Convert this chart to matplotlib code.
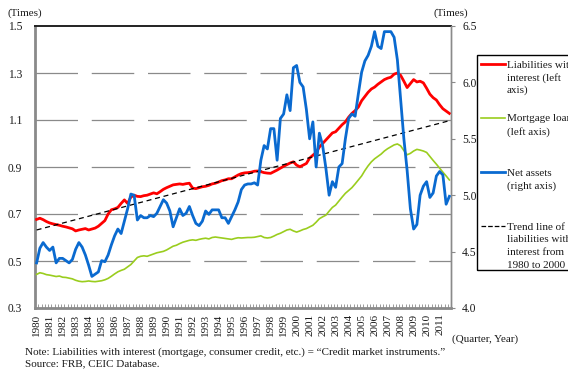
import matplotlib
matplotlib.use("Agg")
import matplotlib.pyplot as plt
from matplotlib.lines import Line2D
from matplotlib.patches import Rectangle
import numpy as np

plt.rcParams['font.family'] = ['Liberation Serif', 'DejaVu Serif']

# Quarterly series, 1980Q1 .. 2011Q4 (four values per year)
years = list(range(1980, 2012))

liabilities = [
    0.677, 0.682, 0.676, 0.668,  # 1980
    0.662, 0.658, 0.655, 0.652,  # 1981
    0.648, 0.645, 0.641, 0.637,  # 1982
    0.628, 0.632, 0.635, 0.638,  # 1983
    0.632, 0.636, 0.640, 0.648,  # 1984
    0.660, 0.672, 0.700, 0.718,  # 1985
    0.722, 0.728, 0.745, 0.760,  # 1986
    0.745, 0.772, 0.780, 0.775,  # 1987
    0.774, 0.778, 0.780, 0.785,  # 1988
    0.790, 0.786, 0.795, 0.805,  # 1989
    0.812, 0.818, 0.824, 0.826,  # 1990
    0.828, 0.826, 0.829, 0.831,  # 1991
    0.810, 0.808, 0.812, 0.816,  # 1992
    0.818, 0.822, 0.828, 0.831,  # 1993
    0.836, 0.842, 0.845, 0.850,  # 1994
    0.850, 0.858, 0.866, 0.872,  # 1995
    0.875, 0.876, 0.878, 0.882,  # 1996
    0.883, 0.880, 0.876, 0.874,  # 1997
    0.873, 0.880, 0.887, 0.895,  # 1998
    0.903, 0.910, 0.917, 0.922,  # 1999
    0.908, 0.901, 0.908, 0.915,  # 2000
    0.938, 0.950, 0.962, 0.985,  # 2001
    1.000, 1.015, 1.030, 1.045,  # 2002
    1.050, 1.065, 1.080, 1.092,  # 2003
    1.112, 1.128, 1.140, 1.155,  # 2004
    1.182, 1.200, 1.218, 1.232,  # 2005
    1.240, 1.252, 1.262, 1.272,  # 2006
    1.278, 1.282, 1.295, 1.300,  # 2007
    1.290, 1.265, 1.238, 1.255,  # 2008
    1.272, 1.262, 1.265, 1.258,  # 2009
    1.235, 1.210, 1.195, 1.185,  # 2010
    1.165, 1.148, 1.138, 1.128,  # 2011
]

mortgage = [
    0.443, 0.450, 0.447, 0.442,  # 1980
    0.440, 0.437, 0.434, 0.436,  # 1981
    0.431, 0.430, 0.427, 0.424,  # 1982
    0.418, 0.414, 0.412, 0.413,  # 1983
    0.415, 0.413, 0.412, 0.414,  # 1984
    0.416, 0.420, 0.426, 0.435,  # 1985
    0.445, 0.454, 0.460, 0.465,  # 1986
    0.475, 0.485, 0.500, 0.515,  # 1987
    0.520, 0.522, 0.520, 0.525,  # 1988
    0.530, 0.535, 0.538, 0.541,  # 1989
    0.547, 0.555, 0.563, 0.567,  # 1990
    0.574, 0.580, 0.584, 0.588,  # 1991
    0.590, 0.588, 0.592, 0.595,  # 1992
    0.597, 0.594, 0.600, 0.602,  # 1993
    0.600, 0.598, 0.596, 0.594,  # 1994
    0.592, 0.596, 0.599, 0.598,  # 1995
    0.599, 0.600, 0.600, 0.601,  # 1996
    0.604, 0.607, 0.600, 0.598,  # 1997
    0.600, 0.606, 0.613, 0.618,  # 1998
    0.625, 0.632, 0.635, 0.628,  # 1999
    0.623, 0.628, 0.634, 0.638,  # 2000
    0.645, 0.652, 0.665, 0.680,  # 2001
    0.688, 0.695, 0.712, 0.728,  # 2002
    0.738, 0.755, 0.772, 0.788,  # 2003
    0.800, 0.812, 0.828, 0.845,  # 2004
    0.862, 0.885, 0.905, 0.922,  # 2005
    0.935, 0.945, 0.955, 0.968,  # 2006
    0.978, 0.986, 0.994, 0.998,  # 2007
    0.990, 0.970, 0.952, 0.958,  # 2008
    0.968, 0.975, 0.972, 0.968,  # 2009
    0.962, 0.945, 0.928, 0.912,  # 2010
    0.895, 0.878, 0.862, 0.845,  # 2011
]

net_assets = [
    4.40, 4.53, 4.58, 4.54,  # 1980
    4.51, 4.54, 4.40, 4.44,  # 1981
    4.44, 4.42, 4.40, 4.43,  # 1982
    4.52, 4.58, 4.54, 4.47,  # 1983
    4.38, 4.28, 4.30, 4.32,  # 1984
    4.42, 4.41, 4.47, 4.56,  # 1985
    4.64, 4.70, 4.66, 4.77,  # 1986
    4.88, 5.01, 5.00, 4.78,  # 1987
    4.82, 4.80, 4.80, 4.82,  # 1988
    4.81, 4.84, 4.90, 4.96,  # 1989
    4.93, 4.86, 4.72, 4.80,  # 1990
    4.88, 4.82, 4.84, 4.90,  # 1991
    4.82, 4.75, 4.73, 4.77,  # 1992
    4.86, 4.83, 4.87, 4.87,  # 1993
    4.87, 4.80, 4.80, 4.75,  # 1994
    4.81, 4.87, 4.94, 5.05,  # 1995
    5.09, 5.10, 5.10, 5.11,  # 1996
    5.09, 5.31, 5.44, 5.41,  # 1997
    5.59, 5.59, 5.31, 5.68,  # 1998
    5.72, 5.89, 5.75, 6.13,  # 1999
    6.15, 6.00, 5.96, 5.76,  # 2000
    5.50, 5.65, 5.25, 5.55,  # 2001
    5.44, 5.24, 5.00, 5.12,  # 2002
    5.07, 5.25, 5.28, 5.50,  # 2003
    5.68, 5.72, 5.70, 5.90,  # 2004
    6.09, 6.19, 6.24, 6.32,  # 2005
    6.45, 6.32, 6.30, 6.45,  # 2006
    6.45, 6.45, 6.40, 6.20,  # 2007
    5.85, 5.50, 5.22, 4.88,  # 2008
    4.70, 4.74, 5.00, 5.08,  # 2009
    5.12, 4.98, 5.02, 5.17,  # 2010
    5.21, 5.18, 4.92, 4.99,  # 2011
]

# Trend line of liabilities (fitted on 1980-2000), value at first and last quarter
trend_first = 0.632
trend_last = 1.097

left_ticks = [0.3, 0.5, 0.7, 0.9, 1.1, 1.3, 1.5]
right_ticks = [4.0, 4.5, 5.0, 5.5, 6.0, 6.5]

legend_entries = [
    ("Liabilities with\ninterest (left\naxis)", "#ff0000", "-", 2.0),
    ("Mortgage loans\n(left axis)", "#9acd1e", "-", 1.2),
    ("Net assets\n(right axis)", "#0a6ad0", "-", 2.0),
    ("Trend line of\nliabilities with\ninterest from\n1980 to 2000", "black", "--", 0.9),
]

W, H = 568, 371
fig = plt.figure(figsize=(W / 100, H / 100), dpi=100)
ax = fig.add_axes([35 / W, 63 / H, 416 / W, 282 / H])

n = len(liabilities)
x = np.arange(n)
txt = "#1a1a1a"
grey = "#8a8a8a"
fs = 8

for v in left_ticks[1:-1]:
    ax.axhline(v, color=grey, lw=0.9, dashes=(34, 11), zorder=1)

ax.plot(x, liabilities, color="#ff0000", lw=2.0, zorder=3)
ax.plot(x, mortgage, color="#9acd1e", lw=1.2, zorder=3)
ax.plot([x[0], x[-1]], [trend_first, trend_last], color="black", lw=0.9,
        dashes=(4, 3), zorder=4)

ax.set_xlim(-0.5, n - 0.5)
ax.set_ylim(left_ticks[0], left_ticks[-1])
ax.set_yticks(left_ticks)
ax.set_yticklabels([f"{v:.1f}" for v in left_ticks], fontsize=fs + 0.3, color=txt)
ax.tick_params(axis="y", length=0, pad=9)

ax.set_xticks(np.arange(0, n, 4))
ax.set_xticklabels([str(y) for y in years], rotation=90, fontsize=fs, color=txt)
ax.set_xticks(np.arange(-0.5, n, 1), minor=True)
ax.tick_params(axis="x", which="major", length=0, pad=4)
ax.tick_params(axis="x", which="minor", direction="in", length=3,
               color=grey, width=0.6)

for side, col, lw in [("left", grey, 2.0), ("bottom", grey, 2.0),
                      ("top", "#222222", 1.4), ("right", grey, 1.0)]:
    ax.spines[side].set_color(col)
    ax.spines[side].set_linewidth(lw)

ax2 = ax.twinx()
ax2.plot(x, net_assets, color="#0a6ad0", lw=2.0, zorder=3)
ax2.set_ylim(right_ticks[0], right_ticks[-1])
ax2.set_yticks(right_ticks)
ax2.set_yticklabels([f"{v:.1f}" for v in right_ticks], fontsize=fs + 0.3, color=txt)
ax2.tick_params(axis="y", direction="out", length=3, color=grey, pad=5)
for side in ("left", "top", "bottom"):
    ax2.spines[side].set_visible(False)
ax2.spines["right"].set_color(grey)
ax2.spines["right"].set_linewidth(1.0)


def fx(px):
    return px / W


def fy(py):
    return 1 - py / H


fig.text(fx(8), fy(13), "(Times)", fontsize=fs, color=txt, va="center")
fig.text(fx(434), fy(13), "(Times)", fontsize=fs, color=txt, va="center")
fig.text(fx(452), fy(339), "(Quarter, Year)", fontsize=fs, color=txt,
         va="center")
fig.text(fx(25), fy(352),
         "Note: Liabilities with interest (mortgage, consumer credit, etc.) "
         "= \u201cCredit market instruments.\u201d",
         fontsize=fs, color=txt, va="center")
fig.text(fx(25), fy(364), "Source: FRB, CEIC Database.", fontsize=fs,
         color=txt, va="center")

# Legend panel on the right
fig.patches.append(Rectangle((fx(477), fy(270)), fx(200), 215 / H,
                             transform=fig.transFigure, fill=False,
                             edgecolor="black", lw=1.0))
entry_tops = [64, 118, 172, 226]
for (label, col, ls, lw), top in zip(legend_entries, entry_tops):
    fig.lines.append(Line2D([fx(481), fx(505)], [fy(top), fy(top)],
                            transform=fig.transFigure, color=col,
                            linestyle=ls, lw=lw))
    for k, line in enumerate(label.split("\n")):
        fig.text(fx(507), fy(top + 1 + k * 12.7), line, fontsize=fs,
                 color=txt, va="center")

fig.savefig("out.png", dpi=100)
